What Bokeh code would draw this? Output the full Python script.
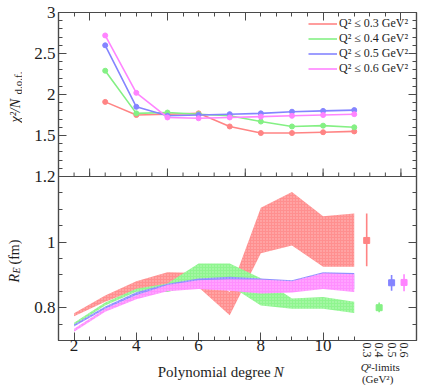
import numpy as np
from bokeh.plotting import figure
from bokeh.layouts import row, column
from bokeh.models import (Range1d, LinearAxis, FixedTicker, Label, Legend,
                          LegendItem, Span, CustomJSTickFormatter)
from bokeh.embed import file_html
from bokeh.resources import INLINE

# ---------------- data ----------------
series_names = ["Q² ≤ 0.3 GeV²", "Q² ≤ 0.4 GeV²", "Q² ≤ 0.5 GeV²", "Q² ≤ 0.6 GeV²"]
line_colors = ["#ff8484", "#84f084", "#8484ff", "#ff84ff"]
band_colors = ["#ff8f8f", "#8ff58f", "#8f8fff", "#ff8fff"]

# chi^2 / N_dof  vs polynomial degree
N_chi = [3, 4, 5, 6, 7, 8, 9, 10, 11]
chi_q03 = [1.91, 1.75, 1.76, 1.77, 1.61, 1.53, 1.53, 1.54, 1.55]
chi_q04 = [2.29, 1.77, 1.78, 1.76, 1.74, 1.67, 1.61, 1.62, 1.60]
chi_q05 = [2.60, 1.85, 1.74, 1.75, 1.76, 1.77, 1.79, 1.80, 1.81]
chi_q06 = [2.72, 2.02, 1.72, 1.71, 1.72, 1.73, 1.74, 1.75, 1.76]

# R_E bands vs polynomial degree
N_re = [2, 3, 4, 5, 6, 7, 8, 9, 10, 11]
re_q03_lo = [0.774, 0.818, 0.855, 0.870, 0.862, 0.777, 0.966, 0.990, 0.925, 0.925]
re_q03_hi = [0.783, 0.837, 0.881, 0.908, 0.906, 0.848, 1.105, 1.153, 1.079, 1.087]
re_q04_lo = [0.746, 0.807, 0.849, 0.848, 0.870, 0.868, 0.807, 0.797, 0.797, 0.784]
re_q04_hi = [0.754, 0.816, 0.858, 0.874, 0.935, 0.935, 0.890, 0.828, 0.833, 0.818]
re_q05_lo = [0.743, 0.796, 0.838, 0.862, 0.862, 0.857, 0.849, 0.851, 0.862, 0.857]
re_q05_hi = [0.749, 0.804, 0.847, 0.873, 0.889, 0.894, 0.889, 0.884, 0.908, 0.906]
re_q06_lo = [0.727, 0.788, 0.826, 0.850, 0.857, 0.852, 0.843, 0.846, 0.857, 0.848]
re_q06_hi = [0.736, 0.797, 0.838, 0.869, 0.884, 0.887, 0.886, 0.881, 0.905, 0.902]

# Final R_E for each Q^2 limit
q2_limit_labels = ["0.3", "0.4", "0.5", "0.6"]
q2_x = [11.4, 11.8, 12.2, 12.6]
q2_re = [1.005, 0.800, 0.876, 0.877]
q2_re_lo = [0.926, 0.786, 0.852, 0.850]
q2_re_hi = [1.087, 0.816, 0.900, 0.902]

# axis tick labels
x_major = [2, 4, 6, 8, 10]
re_ticks = [0.8, 1.0, 1.2]
chi_ticks = [1.5, 2.0, 2.5, 3.0]

# ---------------- layout constants ----------------
FONT = "Liberation Serif"
AX = "#4a4a4a"
TXT = "#1e1e1e"
W, H = 427, 385
GW = 22                     # left gutter (y titles)
LEFT, TOP, RIGHT, BOTTOM = 36, 12, 11, 20
FW, FH = W - GW - LEFT - RIGHT, 328
MAIN_H = TOP + FH + BOTTOM
X0, X1 = 1.5, 13.0
RE0, RE1 = 0.7, 1.2          # lower panel
CHI0, CHI1 = 1.0, 3.0        # upper panel
Y0, Y1 = RE0, RE1 + (RE1 - RE0)
chi_scale = (RE1 - RE0) / (CHI1 - CHI0)

p = figure(frame_width=FW, frame_height=FH, x_range=Range1d(X0, X1),
           y_range=Range1d(Y0, Y1), output_backend="svg", toolbar_location=None,
           x_axis_location=None, y_axis_location=None, title=None,
           min_border_left=LEFT, min_border_top=TOP, min_border_right=RIGHT,
           min_border_bottom=BOTTOM, background_fill_color="white",
           border_fill_color="white", outline_line_color=AX, outline_line_width=1.2)
p.xgrid.visible = False
p.ygrid.visible = False
p.extra_y_ranges = {"chi": Range1d(CHI0 - (CHI1 - CHI0), CHI1)}

blank = CustomJSTickFormatter(code="return ''")

def make_axis(ticker, labels=True, tick_major=8, tick_minor=4, line=True, size="17px",
              standoff=3):
    ax = LinearAxis(ticker=ticker)
    ax.axis_line_color = AX if line else None
    ax.axis_line_width = 1.2
    ax.major_tick_line_color = AX
    ax.minor_tick_line_color = AX
    ax.major_tick_in = tick_major
    ax.major_tick_out = 0
    ax.minor_tick_in = tick_minor
    ax.minor_tick_out = 0
    ax.major_label_text_font = FONT
    ax.major_label_text_color = TXT
    if labels:
        ax.major_label_text_font_size = size
        ax.major_label_standoff = standoff
    else:
        ax.formatter = blank
        ax.major_label_text_font_size = "0px"
        ax.major_label_standoff = 0
    return ax

# y ticks (both panels share one axis line)
chi_pos = [RE1 + (c - CHI0) * chi_scale for c in chi_ticks]
y_major = re_ticks + chi_pos
y_minor = [round(v, 4) for v in np.arange(RE0, RE1, 0.05)] + \
          [RE1 + (round(c, 4) - CHI0) * chi_scale for c in np.arange(CHI0, CHI1 + 1e-9, 0.1)]
overrides = {t: "%g" % t for t in re_ticks}
for pos, c in zip(chi_pos, chi_ticks):
    overrides[pos] = "%g" % c

yl = make_axis(FixedTicker(ticks=y_major, minor_ticks=y_minor), standoff=3)
yl.major_label_overrides = overrides
p.add_layout(yl, "left")
p.add_layout(make_axis(FixedTicker(ticks=y_major, minor_ticks=y_minor), labels=False), "right")

# bottom: ticks only / vertical Q^2 labels / numbers
x_minor = list(np.arange(1.5, 11.01, 0.5))
p.add_layout(make_axis(FixedTicker(ticks=x_major, minor_ticks=x_minor), labels=False), "below")

xq = make_axis(FixedTicker(ticks=q2_x, minor_ticks=[]), tick_major=0, tick_minor=0,
               line=False, size="12px", standoff=2)
xq.major_label_overrides = {x: t for x, t in zip(q2_x, q2_limit_labels)}
xq.major_label_orientation = -np.pi / 2
p.add_layout(xq, "below")

xn = make_axis(FixedTicker(ticks=x_major, minor_ticks=[]), tick_major=0, tick_minor=0,
               line=False, size="17px", standoff=-21)
p.add_layout(xn, "below")

top_major = [2.5, 5.0, 7.5, 10.0, 12.5]
top_minor = list(np.arange(1.5, 12.51, 0.5))
p.add_layout(make_axis(FixedTicker(ticks=top_major, minor_ticks=top_minor), labels=False), "above")

# panel boundary with upward ticks of the upper panel
p.add_layout(Span(location=RE1, dimension="width", line_color=AX, line_width=1.2))
unit = (Y1 - Y0) / FH
p.segment(x0=top_minor, x1=top_minor, y0=[RE1] * len(top_minor),
          y1=[RE1 + 4 * unit] * len(top_minor), line_color=AX, line_width=1)
p.segment(x0=top_major, x1=top_major, y0=[RE1] * len(top_major),
          y1=[RE1 + 8 * unit] * len(top_major), line_color=AX, line_width=1)

# ---------------- lower panel: bands ----------------
bands = [(re_q03_lo, re_q03_hi), (re_q04_lo, re_q04_hi),
         (re_q05_lo, re_q05_hi), (re_q06_lo, re_q06_hi)]
for (lo, hi), col in zip(bands, band_colors):
    p.varea(x=N_re, y1=lo, y2=hi, fill_color=col, fill_alpha=1.0,
            hatch_pattern="dot", hatch_color="white", hatch_alpha=0.45,
            hatch_scale=3, hatch_weight=0.6)

for i in range(4):
    p.segment(x0=[q2_x[i]], x1=[q2_x[i]], y0=[q2_re_lo[i]], y1=[q2_re_hi[i]],
              line_color=line_colors[i], line_width=1.6)
p.scatter(x=q2_x, y=q2_re, marker="square", size=6, color=line_colors)

# ---------------- upper panel: chi^2 ----------------
chis = [chi_q03, chi_q04, chi_q05, chi_q06]
items = []
for name, ys, col in zip(series_names, chis, line_colors):
    r = p.line(N_chi, ys, line_color=col, line_width=1.6, y_range_name="chi")
    p.scatter(N_chi, ys, marker="circle", size=5, color=col, y_range_name="chi")
    items.append(LegendItem(label=name, renderers=[r]))

leg = Legend(items=items, location=(250, 264), padding=0, margin=0, spacing=0,
             glyph_width=29, glyph_height=13, label_height=13, label_standoff=2,
             label_text_font=FONT, label_text_font_size="12px",
             label_text_color=TXT, background_fill_alpha=0, border_line_alpha=0)
p.add_layout(leg)

# ---------------- gutters for titles ----------------
def gutter(w, h):
    g = figure(width=w, height=h, x_range=Range1d(0, w), y_range=Range1d(0, h),
               output_backend="svg", toolbar_location=None, title=None,
               x_axis_location=None, y_axis_location=None, min_border=0,
               outline_line_color=None, background_fill_color="white",
               border_fill_color="white")
    g.xgrid.visible = False
    g.ygrid.visible = False
    return g

gl = gutter(GW, H)
gb = gutter(W - GW, H - MAIN_H)

def lab(g, text, x, y, size, angle=0.0, align="left", baseline="alphabetic", style="normal"):
    g.add_layout(Label(x=x, y=y, text=text, angle=angle, text_align=align,
                       text_baseline=baseline, text_font=FONT, text_font_size=size,
                       text_font_style=style, text_color=TXT))

# y titles (page coords: x, y from top) -> gutter data coords
up = np.pi / 2
lab(gl, "χ²/N", 14.5, H - 122, "14px", angle=up, style="italic")
lab(gl, "d.o.f.", 17, H - 94, "11px", angle=up)
lab(gl, "R", 13.5, H - 282, "14px", angle=up, style="italic")
lab(gl, "E", 16, H - 273, "10px", angle=up, style="italic")
lab(gl, "(fm)", 13.5, H - 264, "14px", angle=up)

# x title and Q^2-limit caption (page coords -> bottom gutter coords)
def bx(px):
    return px - GW

def by(py):
    return H - py

lab(gb, "Polynomial degree", bx(262), by(371.7), "15px", align="right", baseline="middle")
lab(gb, "N", bx(265.5), by(371.7), "15px", baseline="middle", style="italic")
lab(gb, "Q", bx(364), by(366.5), "11px", baseline="middle", style="italic")
lab(gb, "²-limits", bx(372), by(366.5), "11px", baseline="middle")
lab(gb, "(GeV²)", bx(383), by(378), "11px", align="center", baseline="middle")

layout = row(gl, column(p, gb))
open("out.html", "w").write(file_html(layout, INLINE))
